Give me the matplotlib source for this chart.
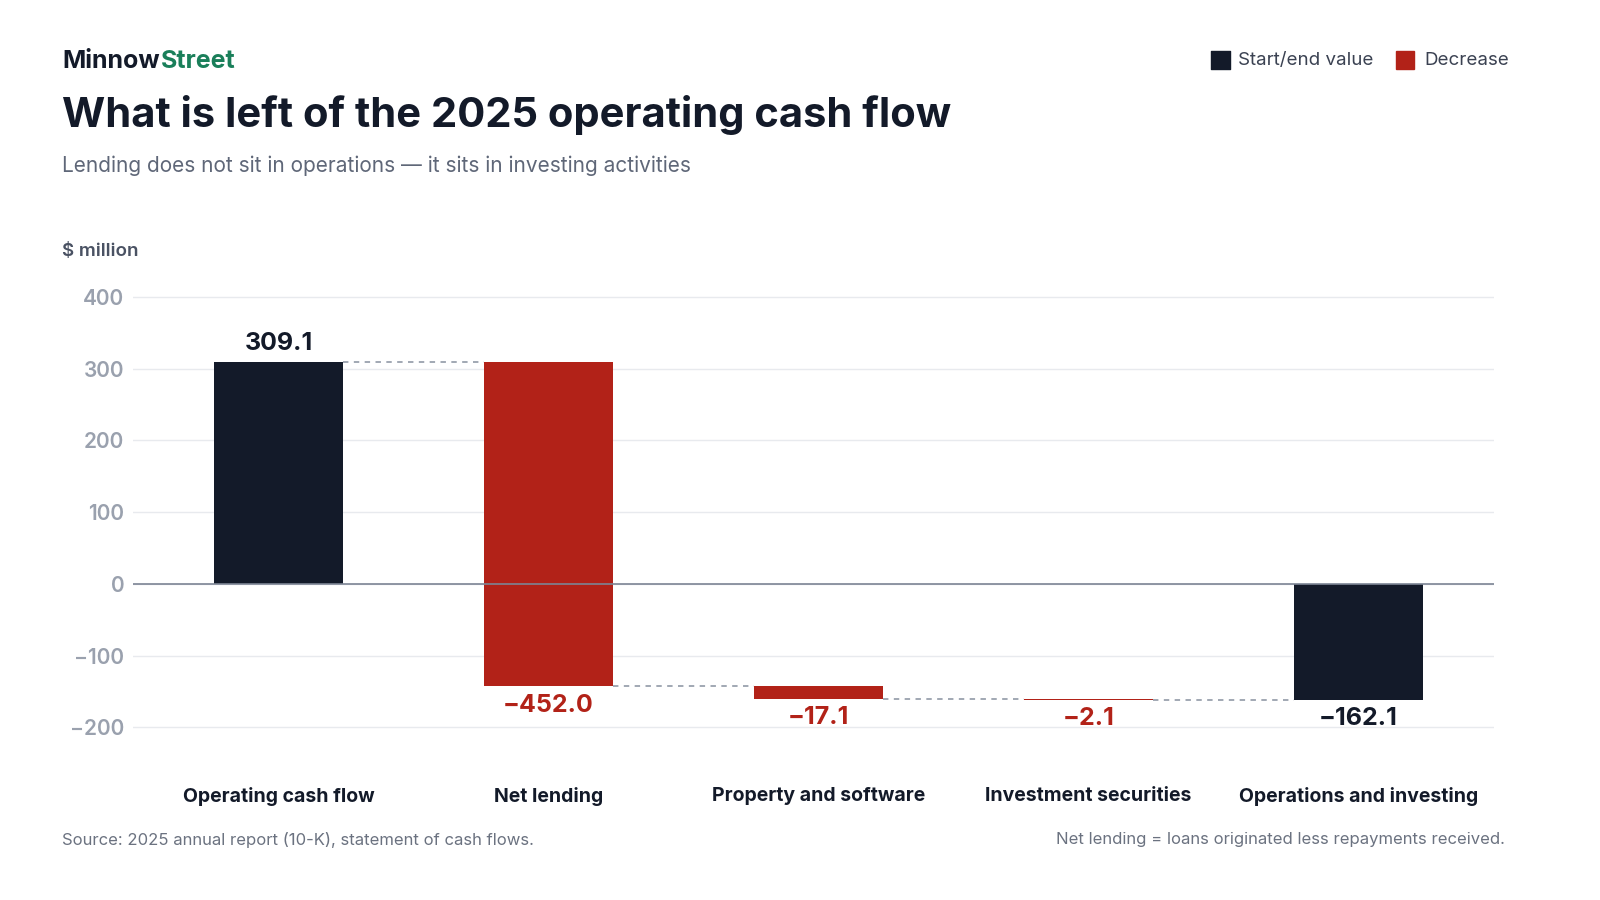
import matplotlib.pyplot as plt
from matplotlib.patches import Rectangle

plt.rcParams['font.family'] = ['Inter', 'DejaVu Sans']

categories = ["Operating cash flow", "Net lending", "Property and software",
              "Investment securities", "Operations and investing"]
changes = [309.1, -452.0, -17.1, -2.1]
end_value = -162.1
value_labels = ["309.1", "\u2212452.0", "\u221217.1", "\u22122.1", "\u2212162.1"]

DARK = "#131a29"
RED = "#b22218"
GREEN = "#1a7f5a"
GRAY = "#9aa1ae"

fig = plt.figure(figsize=(16, 9), dpi=100)
ax = fig.add_axes([0.083, 0.160, 0.851, 0.526])
ax.set_xlim(-0.54, 4.504)
ax.set_ylim(-240, 420)

w = 0.48
# running totals
bottoms, tops = [], []
total = 0
for i, c in enumerate(changes):
    if i == 0:
        bottoms.append(0); tops.append(c); total = c
    else:
        bottoms.append(total + c); tops.append(total); total += c
bottoms.append(end_value); tops.append(0)

colors = [DARK, RED, RED, RED, DARK]
for i in range(5):
    ax.bar(i, tops[i] - bottoms[i], bottom=bottoms[i], width=w, color=colors[i], zorder=3)

# connectors
levels = [changes[0]]
t = changes[0]
for c in changes[1:]:
    t += c
    levels.append(t)
for i in range(4):
    ax.plot([i + w / 2, i + 1 - w / 2], [levels[i], levels[i]], ls=(0, (3, 3)),
            color=GRAY, lw=1.3, zorder=2)

# value labels
ax.text(0, tops[0] + 10, value_labels[0], ha="center", va="bottom",
        fontsize=18, fontweight="bold", color=DARK)
for i in range(1, 5):
    ax.text(i, bottoms[i] - 10, value_labels[i], ha="center", va="top",
            fontsize=18, fontweight="bold", color=colors[i])

ax.set_yticks([-200, -100, 0, 100, 200, 300, 400])
ax.set_yticklabels(["\u2212200", "\u2212100", "0", "100", "200", "300", "400"])
ax.tick_params(axis="y", length=0, pad=6, labelsize=15, labelcolor=GRAY)
for lab in ax.get_yticklabels():
    lab.set_fontweight("semibold")
ax.grid(axis="y", color="#e8eaee", lw=1, zorder=0)
ax.axhline(0, color="#7d8594", lw=1.2, zorder=4)
for s in ax.spines.values():
    s.set_visible(False)
ax.set_xticks(range(5))
ax.set_xticklabels(categories, fontsize=14, fontweight="bold", color=DARK)
ax.tick_params(axis="x", length=0, pad=22)

# header
fig.text(0.039, 0.932, "Minnow", fontsize=18, fontweight="bold", color=DARK, va="center")
fig.text(0.1005, 0.932, "Street", fontsize=18, fontweight="bold", color=GREEN, va="center")
fig.text(0.039, 0.872, "What is left of the 2025 operating cash flow", fontsize=30,
         fontweight="bold", color=DARK, va="center")
fig.text(0.039, 0.816, "Lending does not sit in operations \u2014 it sits in investing activities",
         fontsize=15, color="#5f6778", va="center")
fig.text(0.039, 0.72, "$ million", fontsize=13.5, fontweight="semibold", color="#4a5263", va="center")

# legend
fig.patches.append(Rectangle((0.757, 0.923), 0.0115, 0.02, transform=fig.transFigure,
                             color=DARK, joinstyle="round"))
fig.text(0.774, 0.933, "Start/end value", fontsize=13.5, color="#3b4252", va="center")
fig.patches.append(Rectangle((0.8725, 0.923), 0.0115, 0.02, transform=fig.transFigure,
                             color=RED))
fig.text(0.89, 0.933, "Decrease", fontsize=13.5, color="#3b4252", va="center")

fig.text(0.039, 0.067, "Source: 2025 annual report (10-K), statement of cash flows.",
         fontsize=12, color="#6b7280", va="center")
fig.text(0.9405, 0.067, "Net lending = loans originated less repayments received.",
         fontsize=12, color="#6b7280", va="center", ha="right")

fig.savefig("out.png", dpi=100, facecolor="white")
